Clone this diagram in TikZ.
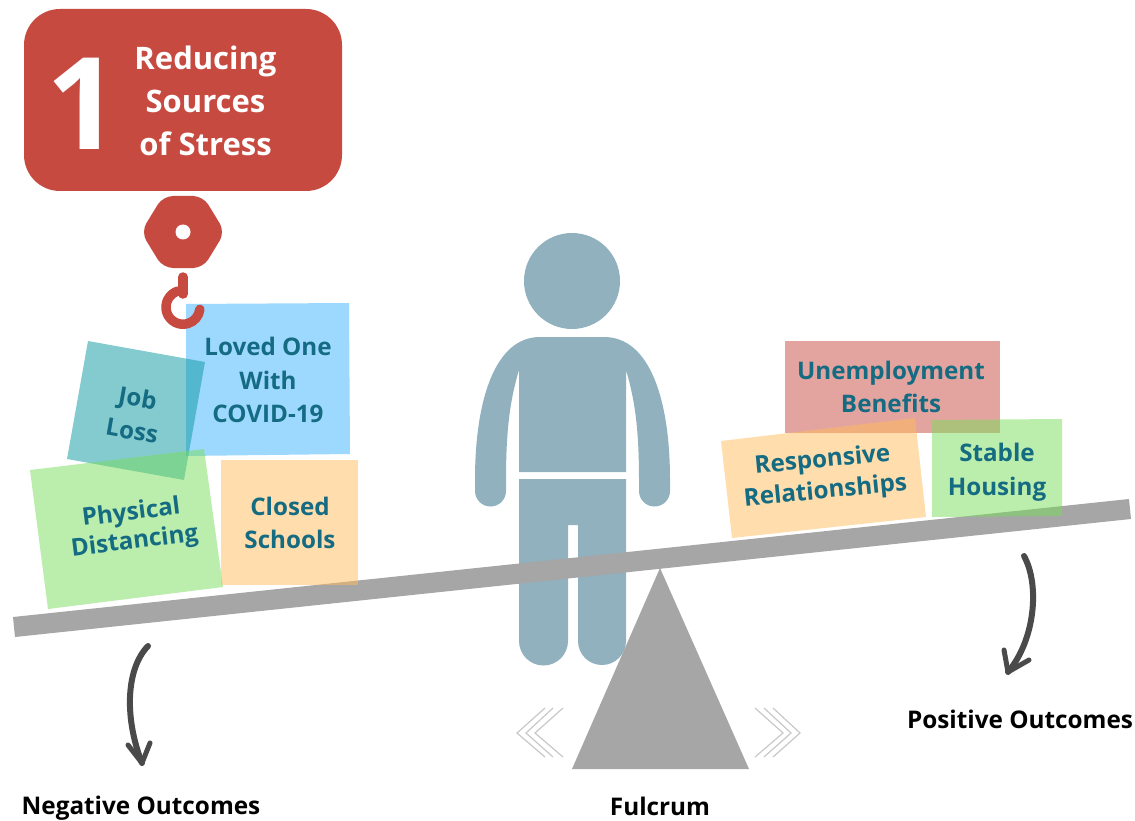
\documentclass[tikz,border=0pt]{standalone}
\usepackage{fontspec}
\setmainfont{Open Sans}
\definecolor{redbox}{HTML}{C74A41}
\definecolor{figurec}{HTML}{91B1BF}
\definecolor{beamc}{HTML}{A6A6A6}
\definecolor{chev}{HTML}{C8C8C8}
\definecolor{ink}{HTML}{146B82}
\definecolor{curvec}{HTML}{4A4A4A}
\definecolor{gblock}{HTML}{78DC5A}
\definecolor{oblock}{HTML}{FFBB5A}
\definecolor{bblock}{HTML}{3CB2FF}
\definecolor{tblock}{HTML}{0A98A0}
\tikzset{
  block/.style={opacity=.5,draw=none},
  blocktxt/.style={text=ink,font=\fontsize{24.2}{33.5}\selectfont\bfseries,align=center,inner sep=0pt},
  outcome/.style={text=black,font=\fontsize{24.3}{28}\selectfont\bfseries,inner sep=0pt},
  titletxt/.style={text=white,font=\fontsize{31}{43}\selectfont\bfseries,align=center,inner sep=0pt},
  chevron/.style={draw=chev,line width=1.2pt,line join=miter},
  bendline/.style={draw=curvec,line width=6pt,line cap=round,line join=round},
  hookline/.style={draw=redbox,line width=9.5pt,line cap=round}
}
\begin{document}
\begin{tikzpicture}[x=1pt,y=-1pt]
\useasboundingbox (0,0) rectangle (1135,821);
% title sign
\fill[redbox,rounded corners=36pt] (24,9) rectangle (342,191);
\node[text=white,font=\fontsize{128}{128}\selectfont\bfseries,inner sep=0pt] (one) at (83,104) {1};
\node[titletxt] (title) at (205.5,100.5) {Reducing\\Sources\hspace{9pt}\\of Stress};
% hook block
\fill[redbox,rounded corners=10pt] (141,232) -- (163,196) -- (203,196) -- (225,232) -- (203,268) -- (163,268) -- cycle;
\fill[white] (183,232) circle (7.5);
% person
\fill[figurec] (572,281) circle (48);
\fill[figurec] (540,337) -- (604,337)
  .. controls (650,337) and (670,400) .. (670,480)
  -- (670,491) arc[start angle=0,end angle=180,radius=15.5] -- (639,480)
  .. controls (639,430) and (635,400) .. (626,370)
  -- (626,472) -- (519,472) -- (519,370)
  .. controls (510,400) and (506,430) .. (506,480)
  -- (506,491) arc[start angle=0,end angle=180,radius=15.5] -- (475,480)
  .. controls (475,400) and (495,337) .. (540,337) -- cycle;
\fill[figurec] (519,479) -- (626,479) -- (626,641)
  arc[start angle=0,end angle=180,radius=24] -- (578,525) -- (568,525) -- (568,641)
  arc[start angle=0,end angle=180,radius=24.5] -- cycle;
% beam and fulcrum
\fill[beamc] (13,617) -- (1129,499) -- (1131,519) -- (15,637) -- cycle;
\fill[beamc] (660,568) -- (749,769) -- (572,769) -- cycle;
% chevrons
\draw[chevron] (545,708) -- (517,733) -- (545,757);
\draw[chevron] (553,708) -- (526,733) -- (553,757);
\draw[chevron] (563,708) -- (535,733) -- (563,757);
\draw[chevron] (755,708) -- (783,733) -- (755,757);
\draw[chevron] (764,708) -- (791,733) -- (764,757);
\draw[chevron] (773,708) -- (800,733) -- (773,757);
% right blocks
\fill[block,fill=redbox] (785,341) rectangle (1000,433);
\fill[block,fill=oblock] (721,441) -- (915,418) -- (926,517) -- (732,538) -- cycle;
\fill[block,fill=gblock] (932,420) -- (1062,419) -- (1062,516) -- (932,517) -- cycle;
\node[blocktxt] (unemp) at (891,387) {Unemployment\\Benefits};
\node[blocktxt,rotate=5.5,font=\fontsize{24.2}{31}\selectfont\bfseries] (resp) at (824,476.5) {Responsive\\Relationships};
\node[blocktxt,font=\fontsize{24.2}{34}\selectfont\bfseries] (stable) at (997,472) {Stable\\Housing};
% left blocks
\fill[block,fill=bblock] (186,304) -- (349,303) -- (350,454) -- (186,456) -- cycle;
\fill[block,fill=tblock] (88,341) -- (205,362) -- (184,480) -- (67,459) -- cycle;
\fill[block,fill=gblock] (30,470) -- (204,449) -- (223,587) -- (48,609) -- cycle;
\fill[block,fill=oblock] (221,460) -- (358,460) -- (358,585) -- (221,585) -- cycle;
\node[blocktxt,rotate=7,font=\fontsize{24.2}{29}\selectfont\bfseries] (phys) at (133,528) {Physical\\Distancing};
\node[blocktxt] (closed) at (290,523) {Closed\\Schools};
\node[blocktxt] (loved) at (268,380) {Loved One\\With\\COVID-19};
\node[blocktxt,rotate=-10] (job) at (135,414) {Job\\Loss};
% hook
\draw[hookline] (183,277) -- (183,294);
\draw[hookline] (178,291) arc[start angle=-107,end angle=-353,radius=17];
% outcome arrows
\coordinate (la) at (148,646);
\coordinate (lb) at (142,763);
\coordinate (ra) at (1024,556);
\coordinate (rb) at (1008,672);
\draw[bendline] (la) .. controls (125,670) and (125,720) .. (lb);
\draw[bendline,line width=5pt] (128,745) -- (lb) -- (150,743);
\draw[bendline] (ra) .. controls (1040,585) and (1035,640) .. (rb);
\draw[bendline,line width=5pt] (1004,650) -- (rb) -- (1029,660);
\node[outcome] (neg) at (141,808) {Negative Outcomes};
\node[outcome] (fulc) at (660,806.5) {Fulcrum};
\node[outcome] (pos) at (1020,719) {Positive Outcomes};
\end{tikzpicture}
\end{document}
